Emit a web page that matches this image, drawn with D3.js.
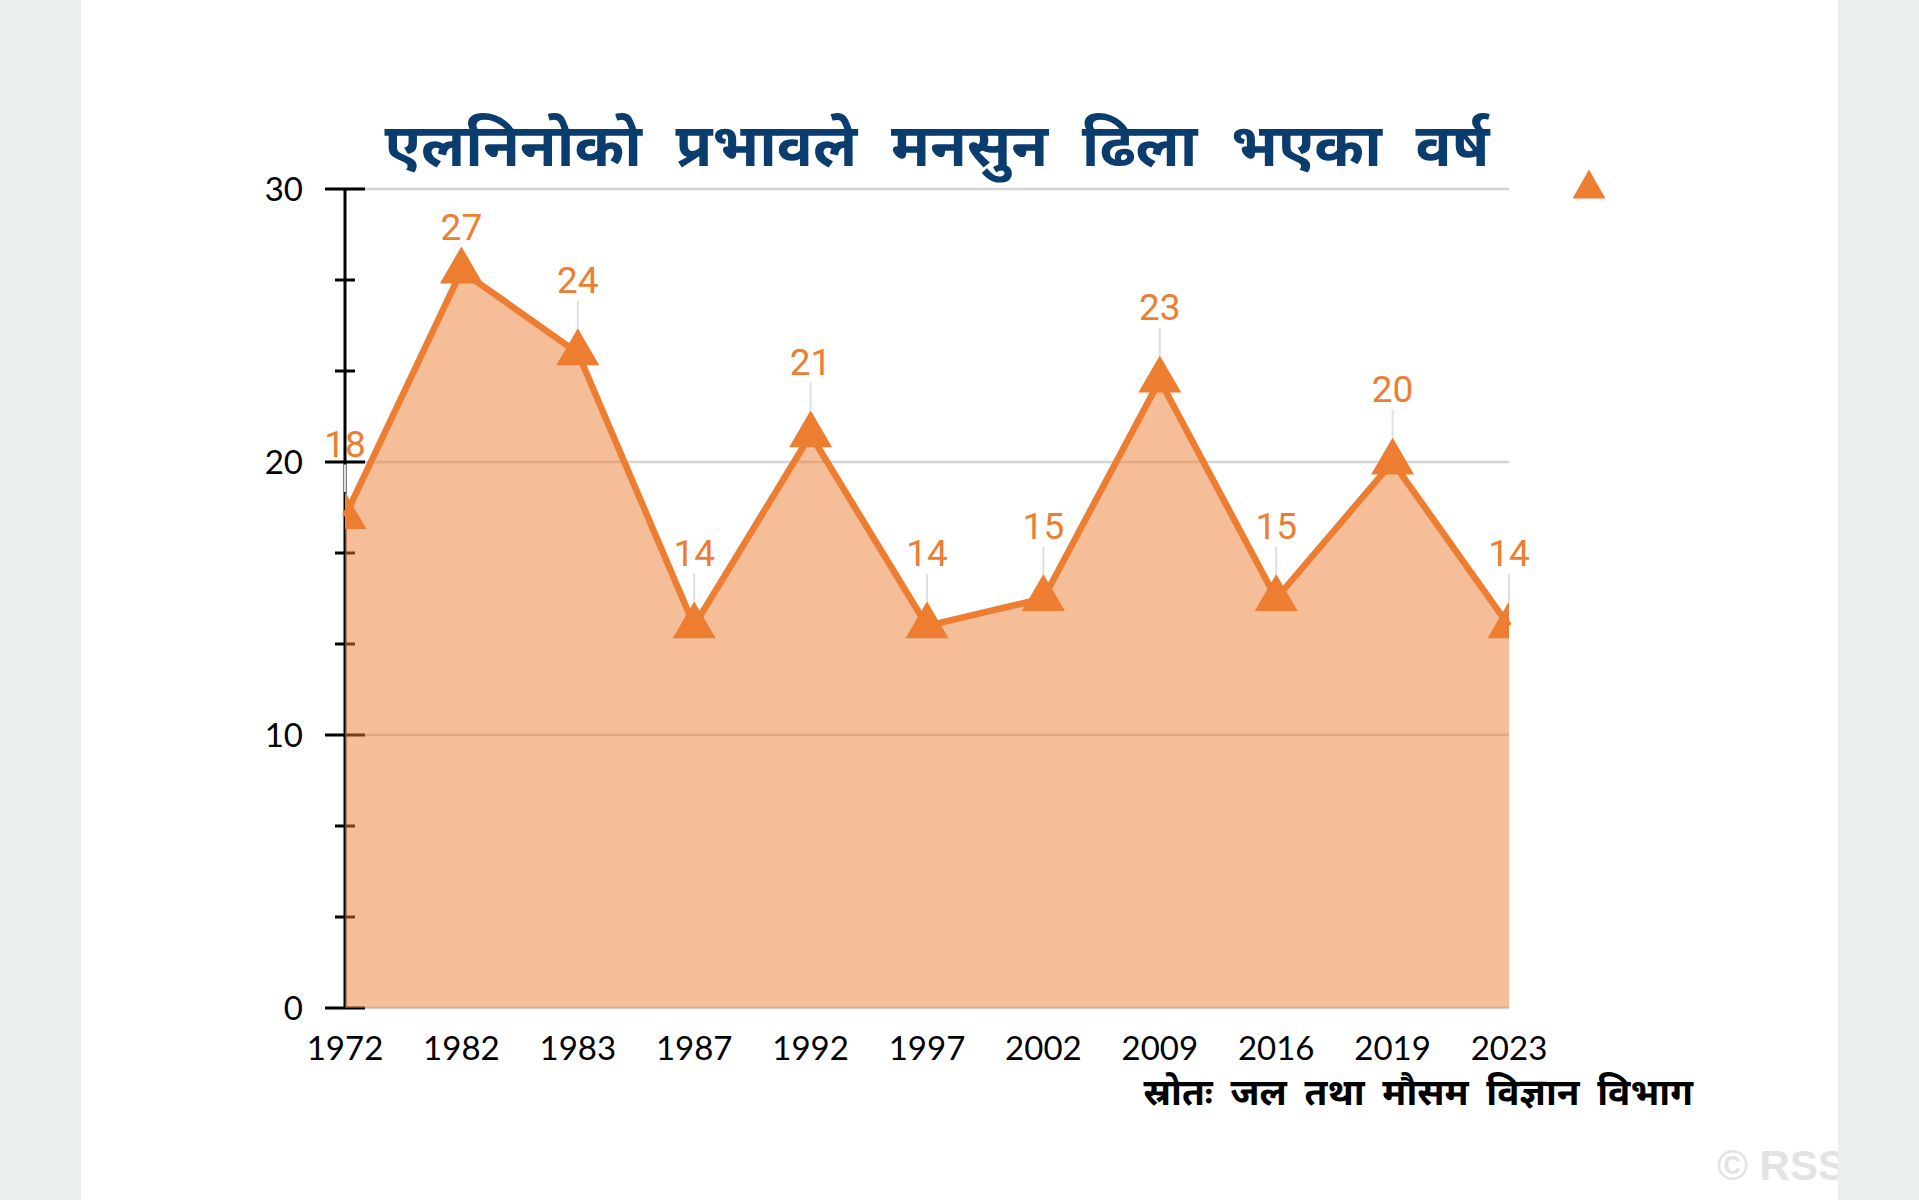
<!DOCTYPE html>
<html>
<head>
<meta charset="utf-8">
<script src="https://cdn.jsdelivr.net/npm/d3@7"></script>
<style>
  html, body { margin: 0; padding: 0; background: #ebeff0; }
  svg { display: block; }
</style>
</head>
<body>
<div id="chart"></div>
<script>
// data
const years = ["1972", "1982", "1983", "1987", "1992", "1997", "2002", "2009", "2016", "2019", "2023"];
const days = [18, 27, 24, 14, 21, 14, 15, 23, 15, 20, 14];
const yTicks = [0, 10, 20, 30];
const titleText = "एलनिनोको प्रभावले मनसुन ढिला भएका वर्ष";
const sourceText = "स्रोतः जल तथा मौसम विज्ञान विभाग";

const W = 1919, H = 1200;
const orange = "#ed7d31";

const svg = d3.select("#chart").append("svg")
  .attr("width", W)
  .attr("height", H);

// white panel
svg.append("rect")
  .attr("x", 81).attr("y", 0)
  .attr("width", 1838 - 81).attr("height", H)
  .attr("fill", "#fff");

const plot = { left: 345, right: 1509, top: 189, bottom: 1008 };

const x = d3.scalePoint()
  .domain(years)
  .range([plot.left, plot.right]);

const y = d3.scaleLinear()
  .domain([0, 30])
  .range([plot.bottom, plot.top]);

// gridlines
svg.append("g")
  .selectAll("line")
  .data(yTicks)
  .join("line")
  .attr("x1", plot.left).attr("x2", plot.right)
  .attr("y1", d => y(d)).attr("y2", d => y(d))
  .attr("stroke", "#d4d4d4")
  .attr("stroke-width", 2.5);

// y axis, major + minor ticks
const yAxis = svg.append("g")
  .attr("transform", `translate(${plot.left},0)`);

yAxis.append("line")
  .attr("y1", y(30)).attr("y2", y(0))
  .attr("stroke", "#000").attr("stroke-width", 3);

yAxis.selectAll(".major")
  .data(yTicks)
  .join("line")
  .attr("class", "major")
  .attr("x1", -20).attr("x2", 20)
  .attr("y1", d => y(d)).attr("y2", d => y(d))
  .attr("stroke", "#000").attr("stroke-width", 3);

const minor = d3.range(0, 30, 10 / 3).filter(v => Math.abs(v % 10) > 0.01 && Math.abs(v % 10 - 10) > 0.01);
yAxis.selectAll(".minor")
  .data(minor)
  .join("line")
  .attr("class", "minor")
  .attr("x1", -10).attr("x2", 10)
  .attr("y1", d => y(d)).attr("y2", d => y(d))
  .attr("stroke", "#000").attr("stroke-width", 3);

yAxis.selectAll("text")
  .data(yTicks)
  .join("text")
  .attr("x", -42)
  .attr("y", d => y(d))
  .attr("dy", "0.36em")
  .attr("text-anchor", "end")
  .style("font-family", "Lato, 'Open Sans', sans-serif")
  .style("font-size", "33px")
  .attr("fill", "#000")
  .text(d => d);

// area
const rows = years.map((yr, i) => ({ year: yr, v: days[i] }));

svg.append("path")
  .datum(rows)
  .attr("fill", orange)
  .attr("fill-opacity", 0.5)
  .attr("d", d3.area()
    .x(d => x(d.year))
    .y0(y(0))
    .y1(d => y(d.v)));

// line
svg.append("path")
  .datum(rows)
  .attr("fill", "none")
  .attr("stroke", orange)
  .attr("stroke-width", 6.5)
  .attr("stroke-linejoin", "round")
  .attr("d", d3.line()
    .x(d => x(d.year))
    .y(d => y(d.v)));

// leader lines + labels
const labelBase = d => Math.max(y(d.v) - 60, plot.top + 51);
const triW = 43, triH = 37, triShift = -6;

svg.append("g")
  .selectAll("line")
  .data(rows.filter(d => (y(d.v) + triShift - triH / 2) - (labelBase(d) + 8) > 6))
  .join("line")
  .attr("x1", d => x(d.year)).attr("x2", d => x(d.year))
  .attr("y1", d => labelBase(d) + 8)
  .attr("y2", d => y(d.v) + triShift - triH / 2)
  .attr("stroke", "#dcdfe3")
  .attr("stroke-width", 2);

// markers, clipped to plot area
svg.append("clipPath").attr("id", "plotclip")
  .append("rect")
  .attr("x", plot.left).attr("y", 0)
  .attr("width", plot.right - plot.left).attr("height", H);

const tri = `M0,${-triH / 2}L${triW / 2},${triH / 2}L${-triW / 2},${triH / 2}Z`;

svg.append("g")
  .attr("clip-path", "url(#plotclip)")
  .selectAll("path")
  .data(rows)
  .join("path")
  .attr("transform", d => `translate(${x(d.year)},${y(d.v) + triShift})`)
  .attr("d", tri)
  .attr("fill", orange);

svg.append("g")
  .selectAll("text")
  .data(rows)
  .join("text")
  .attr("x", d => x(d.year))
  .attr("y", d => labelBase(d))
  .attr("text-anchor", "middle")
  .style("font-family", "Roboto, sans-serif")
  .style("font-size", "37px")
  .attr("fill", orange)
  .text(d => d.v);

// x labels
svg.append("g")
  .selectAll("text")
  .data(years)
  .join("text")
  .attr("x", d => x(d))
  .attr("y", 1060)
  .attr("text-anchor", "middle")
  .style("font-family", "Lato, 'Open Sans', sans-serif")
  .style("font-size", "33px")
  .attr("fill", "#000")
  .text(d => d);

// legend marker
svg.append("path")
  .attr("transform", "translate(1589,184)")
  .attr("d", `M0,-14.5L16.5,14.5L-16.5,14.5Z`)
  .attr("fill", orange);

// title
svg.append("text")
  .attr("x", 937)
  .attr("y", 166)
  .attr("text-anchor", "middle")
  .style("font-family", "'Noto Sans', sans-serif")
  .style("font-weight", "bold")
  .style("font-size", "60px")
  .style("word-spacing", "18px")
  .attr("fill", "#0b3c6e")
  .text(titleText);

// source
svg.append("text")
  .attr("x", 1693)
  .attr("y", 1105)
  .attr("text-anchor", "end")
  .style("font-family", "'Noto Sans', sans-serif")
  .style("font-weight", "bold")
  .style("font-size", "37px")
  .style("word-spacing", "8px")
  .attr("fill", "#000")
  .text(sourceText);

// watermark
svg.append("text")
  .attr("x", 1717)
  .attr("y", 1180)
  .style("font-family", "'Liberation Sans', Arial, sans-serif")
  .style("font-weight", "bold")
  .style("font-size", "42px")
  .attr("fill", "#e3e3e3")
  .text("© RSS");

// right gray band drawn last so the watermark is cut at the panel edge
svg.append("rect")
  .attr("x", 1838).attr("y", 0)
  .attr("width", W - 1838).attr("height", H)
  .attr("fill", "#ebeff0");
</script>
</body>
</html>
